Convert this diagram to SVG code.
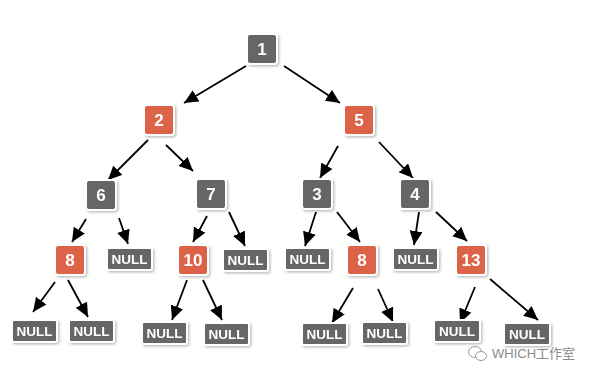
<svg xmlns="http://www.w3.org/2000/svg" width="604" height="378" viewBox="0 0 604 378">
<style>
.g{fill:#666666;stroke:#ffffff;stroke-width:2}
.o{fill:#DC6446;stroke:#ffffff;stroke-width:2}
.n{font-family:"Liberation Sans",Arial,sans-serif;font-weight:bold;font-size:17px;fill:#ffffff;text-anchor:middle}
.nl{font-family:"Liberation Sans",Arial,sans-serif;font-weight:bold;font-size:13.5px;fill:#ffffff;text-anchor:middle}
.e{stroke:#000000;stroke-width:1.8;fill:none;marker-end:url(#ah)}
.wm{font-family:"Liberation Sans","Noto Sans CJK SC",sans-serif;font-size:13px;fill:#8a8a8a}
</style>
<defs>
<filter id="sh" x="-30%" y="-30%" width="160%" height="160%">
<feDropShadow dx="1.5" dy="1.5" stdDeviation="1.2" flood-color="#000000" flood-opacity="0.25"/>
</filter>
<marker id="ah" markerUnits="userSpaceOnUse" markerWidth="18" markerHeight="16" refX="14" refY="6.5" orient="auto">
<path d="M0,0 L14,6.5 L0,13 Z" fill="#000000"/>
</marker>
</defs>
<rect width="604" height="378" fill="#ffffff"/>
<g id="connectors">
<line class="e" x1="246" y1="66" x2="184" y2="103"/>
<line class="e" x1="284" y1="66" x2="340" y2="103"/>
<line class="e" x1="148" y1="140" x2="108" y2="180"/>
<line class="e" x1="166" y1="145" x2="193" y2="171"/>
<line class="e" x1="338" y1="146" x2="320" y2="178"/>
<line class="e" x1="379" y1="142" x2="413" y2="178"/>
<line class="e" x1="86" y1="219" x2="72" y2="242"/>
<line class="e" x1="119" y1="218" x2="128" y2="244"/>
<line class="e" x1="207" y1="216" x2="193" y2="242"/>
<line class="e" x1="229" y1="212" x2="245" y2="246"/>
<line class="e" x1="316" y1="212" x2="305" y2="246"/>
<line class="e" x1="337" y1="212" x2="360" y2="242"/>
<line class="e" x1="419" y1="212" x2="414" y2="245"/>
<line class="e" x1="436" y1="212" x2="467" y2="241"/>
<line class="e" x1="55" y1="282" x2="33" y2="312"/>
<line class="e" x1="68" y1="280" x2="88" y2="317"/>
<line class="e" x1="187" y1="280" x2="172" y2="320"/>
<line class="e" x1="203" y1="280" x2="222" y2="320"/>
<line class="e" x1="353" y1="288" x2="332" y2="323"/>
<line class="e" x1="378" y1="289" x2="393" y2="322"/>
<line class="e" x1="475" y1="287" x2="460" y2="323"/>
<line class="e" x1="490" y1="279" x2="538" y2="320"/>
</g>
<g id="n1" filter="url(#sh)"><rect class="g" x="247" y="34" width="30" height="30" rx="3"/><text class="n" x="262" y="55">1</text></g>
<g id="n2" filter="url(#sh)"><rect class="o" x="144" y="105" width="30" height="30" rx="3"/><text class="n" x="159" y="126">2</text></g>
<g id="n5" filter="url(#sh)"><rect class="o" x="344" y="105" width="30" height="30" rx="3"/><text class="n" x="359" y="126">5</text></g>
<g id="n6" filter="url(#sh)"><rect class="g" x="86" y="180" width="30" height="30" rx="3"/><text class="n" x="101" y="201">6</text></g>
<g id="n7" filter="url(#sh)"><rect class="g" x="196" y="179" width="30" height="30" rx="3"/><text class="n" x="211" y="200">7</text></g>
<g id="n3" filter="url(#sh)"><rect class="g" x="302" y="179" width="30" height="30" rx="3"/><text class="n" x="317" y="200">3</text></g>
<g id="n4" filter="url(#sh)"><rect class="g" x="400" y="179" width="30" height="30" rx="3"/><text class="n" x="415" y="200">4</text></g>
<g id="n8a" filter="url(#sh)"><rect class="o" x="55" y="245" width="30" height="30" rx="3"/><text class="n" x="70" y="266">8</text></g>
<g id="null1" filter="url(#sh)"><rect class="g" x="107" y="248" width="45" height="22" rx="2"/><text class="nl" x="129.5" y="264">NULL</text></g>
<g id="n10" filter="url(#sh)"><rect class="o" x="178" y="245" width="30" height="30" rx="3"/><text class="n" x="193" y="266">10</text></g>
<g id="null2" filter="url(#sh)"><rect class="g" x="223" y="249" width="45" height="22" rx="2"/><text class="nl" x="245.5" y="265">NULL</text></g>
<g id="null3" filter="url(#sh)"><rect class="g" x="285" y="248" width="45" height="22" rx="2"/><text class="nl" x="307.5" y="264">NULL</text></g>
<g id="n8b" filter="url(#sh)"><rect class="o" x="347" y="245" width="30" height="30" rx="3"/><text class="n" x="362" y="266">8</text></g>
<g id="null4" filter="url(#sh)"><rect class="g" x="393" y="248" width="45" height="22" rx="2"/><text class="nl" x="415.5" y="264">NULL</text></g>
<g id="n13" filter="url(#sh)"><rect class="o" x="456" y="245" width="30" height="30" rx="3"/><text class="n" x="471" y="266">13</text></g>
<g id="null5" filter="url(#sh)"><rect class="g" x="12" y="320" width="45" height="22" rx="2"/><text class="nl" x="34.5" y="336">NULL</text></g>
<g id="null6" filter="url(#sh)"><rect class="g" x="69" y="320" width="45" height="22" rx="2"/><text class="nl" x="91.5" y="336">NULL</text></g>
<g id="null7" filter="url(#sh)"><rect class="g" x="142" y="322" width="45" height="22" rx="2"/><text class="nl" x="164.5" y="338">NULL</text></g>
<g id="null8" filter="url(#sh)"><rect class="g" x="204" y="323" width="45" height="22" rx="2"/><text class="nl" x="226.5" y="339">NULL</text></g>
<g id="null9" filter="url(#sh)"><rect class="g" x="302" y="323" width="45" height="22" rx="2"/><text class="nl" x="324.5" y="339">NULL</text></g>
<g id="null10" filter="url(#sh)"><rect class="g" x="362" y="322" width="45" height="22" rx="2"/><text class="nl" x="384.5" y="338">NULL</text></g>
<g id="null11" filter="url(#sh)"><rect class="g" x="434" y="320" width="46" height="22" rx="2"/><text class="nl" x="457" y="336">NULL</text></g>
<g id="null12" filter="url(#sh)"><rect class="g" x="504" y="323" width="46" height="22" rx="2"/><text class="nl" x="527" y="339">NULL</text></g>
<g id="watermark">
<g fill="none" stroke="#9a9a9a" stroke-width="1">
<ellipse cx="475" cy="352" rx="6.5" ry="5.5"/>
<ellipse cx="481" cy="356" rx="5.5" ry="4.5" fill="#ffffff"/>
</g>
<text class="wm" x="492" y="358">WHICH工作室</text>
</g>
</svg>
